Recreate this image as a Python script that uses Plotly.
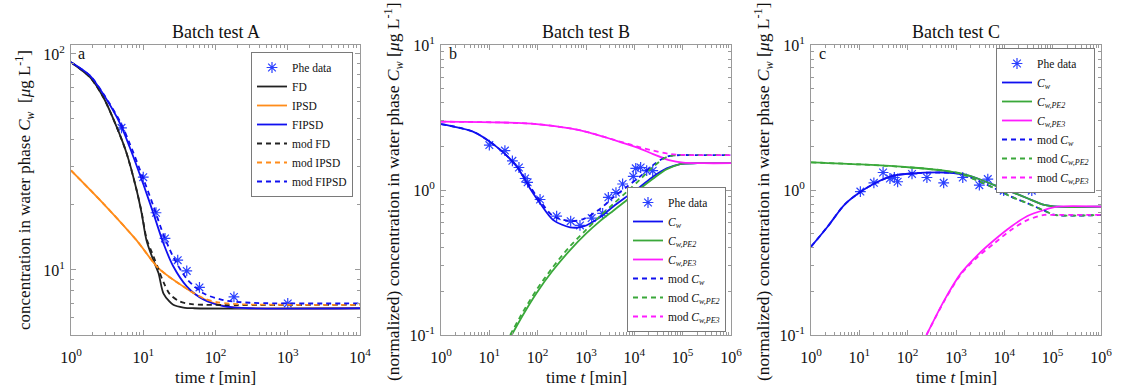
import plotly.graph_objects as go
import numpy as np

FONT = "Liberation Serif, Times New Roman, serif"
W, H = 1121, 390

# ---------------- Panel A (Batch test A) ----------------
a_data_t = [5, 10, 15, 20, 30, 40, 60, 180, 1000]
a_data_c = [45.5, 26.9, 18.4, 14.0, 11.1, 9.9, 8.3, 7.5, 7.0]

a_fd_t = [1, 1.83, 2.8, 4.3, 5.9, 8.1, 9.5, 11.1, 13.8, 16.2, 19, 23, 26, 36, 50, 10000]
a_fd_c = [91.5, 78, 63, 45.8, 34.6, 23.4, 18.3, 13.7, 11.1, 9.7, 7.8, 7.15, 6.9, 6.7, 6.65, 6.65]
a_modfd_t = [1, 1.83, 2.8, 4.3, 5.9, 8.1, 9.5, 11.1, 13.8, 16.2, 19, 23.5, 32, 44, 70, 10000]
a_modfd_c = [91.5, 78, 63, 45.8, 34.6, 23.4, 18.5, 14.0, 11.6, 10.1, 8.8, 7.7, 7.15, 6.97, 6.9, 6.9]

a_ipsd_t = [1, 2.8, 8.1, 16.2, 32, 68, 104, 160, 300, 10000]
a_ipsd_c = [28.9, 20.3, 13.7, 10.2, 8.6, 7.35, 6.95, 6.75, 6.65, 6.65]
a_modipsd_t = [1, 2.8, 8.1, 16.2, 32, 68, 104, 160, 300, 10000]
a_modipsd_c = [28.9, 20.3, 13.7, 10.2, 8.6, 7.4, 7.1, 6.98, 6.92, 6.9]

a_fipsd_t = [1, 1.83, 2.8, 4.8, 6.5, 10, 13.8, 19, 26, 40, 68, 129, 300, 10000]
a_fipsd_c = [91.5, 79.4, 65, 47.5, 37, 25, 18.3, 13.3, 10.4, 8.4, 7.3, 6.8, 6.65, 6.65]
a_modfipsd_t = [1, 1.83, 2.8, 4.8, 6.5, 10, 13.8, 19, 26, 40, 68, 129, 300, 10000]
a_modfipsd_c = [91.5, 79.4, 65.5, 48.5, 38.5, 26.5, 19.8, 14.6, 11.5, 9.1, 7.8, 7.25, 7.05, 7.0]

# ---------------- Panel B (Batch test B) ----------------
b_data_t = [10, 21, 30, 41, 55, 62, 112, 247, 482, 751, 1310, 2210, 2900, 4170, 5720,
            9500, 10700, 13500, 18000, 24000]
b_data_c = [2.04, 1.87, 1.59, 1.43, 1.20, 1.13, 0.86, 0.66, 0.61, 0.57, 0.64, 0.69, 0.89,
            0.96, 1.10, 1.24, 1.41, 1.43, 1.36, 1.36]

b_cw_t = [1, 4.7, 14, 37, 69, 112, 210, 468, 880, 1950, 3670, 6920, 13100, 24700, 46800,
          88500, 200000, 1e6]
b_cw_c = [2.85, 2.52, 1.99, 1.45, 1.03, 0.81, 0.62, 0.553, 0.56, 0.65, 0.77, 0.90, 1.05,
          1.24, 1.41, 1.51, 1.53, 1.53]
b_modcw_t = [1, 4.7, 14, 37, 69, 112, 210, 468, 880, 1950, 3670, 6920, 13100, 24700, 46800,
             88500, 200000, 1e6]
b_modcw_c = [2.85, 2.52, 1.99, 1.46, 1.06, 0.84, 0.66, 0.61, 0.63, 0.74, 0.89, 1.05, 1.24,
             1.49, 1.70, 1.74, 1.74, 1.74]

b_pe2_t = [29, 50, 95, 200, 468, 1000, 1950, 3670, 6920, 13100, 24700, 46800, 88500, 200000, 1e6]
b_pe2_c = [0.10, 0.138, 0.195, 0.275, 0.385, 0.50, 0.61, 0.72, 0.85, 1.02, 1.20, 1.39, 1.51, 1.53, 1.53]
b_modpe2_t = [27, 50, 95, 200, 468, 1000, 1950, 3670, 6920, 13100, 24700, 46800, 88500, 200000, 1e6]
b_modpe2_c = [0.10, 0.145, 0.205, 0.29, 0.41, 0.53, 0.66, 0.80, 0.97, 1.18, 1.45, 1.69, 1.74, 1.74, 1.74]

b_pe3_t = [1, 19.5, 95, 468, 1020, 2290, 5000, 11200, 24500, 55000, 102000, 270000, 1e6]
b_pe3_c = [2.96, 2.92, 2.85, 2.66, 2.52, 2.33, 2.15, 1.97, 1.77, 1.60, 1.545, 1.53, 1.53]
b_modpe3_t = [1, 19.5, 95, 468, 1020, 2290, 5000, 11200, 24500, 55000, 102000, 270000, 1e6]
b_modpe3_c = [2.96, 2.92, 2.85, 2.66, 2.52, 2.33, 2.16, 2.00, 1.87, 1.77, 1.745, 1.74, 1.74]

# ---------------- Panel C (Batch test C) ----------------
c_data_t = [10.5, 20, 31, 43, 53, 62, 123, 250, 556, 1380, 3040, 4550, 9700, 13700, 25000, 37000]
c_data_c = [0.975, 1.12, 1.32, 1.20, 1.22, 1.14, 1.29, 1.22, 1.12, 1.22, 1.08, 1.19, 0.99,
            1.07, 1.04, 0.99]

c_cw_t = [1, 2.2, 4.9, 10.8, 24, 53, 117, 575, 1260, 2800, 6200, 13700, 30000, 67000, 127000, 1e6]
c_cw_c = [0.406, 0.558, 0.79, 0.975, 1.14, 1.26, 1.30, 1.32, 1.29, 1.20, 1.08, 0.975, 0.877,
          0.79, 0.767, 0.767]
c_modcw_t = [1, 2.2, 4.9, 10.8, 24, 53, 117, 575, 1260, 2800, 6200, 13700, 30000, 67000, 110000, 1e6]
c_modcw_c = [0.406, 0.558, 0.79, 0.975, 1.14, 1.26, 1.30, 1.32, 1.29, 1.16, 1.03, 0.90, 0.81,
             0.72, 0.673, 0.673]

c_pe2_t = [1, 10.8, 117, 575, 1260, 2800, 6200, 13700, 30000, 67000, 127000, 1e6]
c_pe2_c = [1.55, 1.50, 1.43, 1.36, 1.30, 1.20, 1.08, 0.975, 0.877, 0.79, 0.767, 0.767]
c_modpe2_t = [1, 10.8, 117, 575, 1260, 2800, 6200, 13700, 30000, 67000, 110000, 1e6]
c_modpe2_c = [1.55, 1.50, 1.43, 1.36, 1.29, 1.16, 1.03, 0.90, 0.81, 0.72, 0.673, 0.673]

c_pe3_t = [245, 575, 1260, 2800, 6200, 13700, 30000, 67000, 127000, 1e6]
c_pe3_c = [0.1, 0.174, 0.266, 0.356, 0.452, 0.558, 0.662, 0.728, 0.767, 0.767]
c_modpe3_t = [245, 575, 1260, 2800, 6200, 13700, 30000, 67000, 110000, 1e6]
c_modpe3_c = [0.1, 0.172, 0.262, 0.345, 0.429, 0.53, 0.62, 0.673, 0.673, 0.673]

# tick labels
x_ticks_a = [1, 10, 100, 1000, 10000]
x_ticktext_a = ["10<sup>0</sup>", "10<sup>1</sup>", "10<sup>2</sup>", "10<sup>3</sup>", "10<sup>4</sup>"]
x_ticks_bc = [1, 10, 100, 1000, 1e4, 1e5, 1e6]
x_ticktext_bc = ["10<sup>0</sup>", "10<sup>1</sup>", "10<sup>2</sup>", "10<sup>3</sup>",
                 "10<sup>4</sup>", "10<sup>5</sup>", "10<sup>6</sup>"]
y_ticks_a = [10, 100]
y_ticktext_a = ["10<sup>1</sup>", "10<sup>2</sup>"]
y_ticks_bc = [0.1, 1, 10]
y_ticktext_bc = ["10<sup>-1</sup>", "10<sup>0</sup>", "10<sup>1</sup>"]

BLUE = "#1010f0"
BLACK = "#222222"
ORANGE = "#ff8c1a"
GREEN = "#3aa83a"
MAGENTA = "#ff1cff"
MARK = "#2a40ff"
DASH = "5px,4px"
LW = 1.8

CW = "<i>C</i><sub><i>w</i></sub>"
CW2 = "<i>C</i><sub><i>w,PE2</i></sub>"
CW3 = "<i>C</i><sub><i>w,PE3</i></sub>"

fig = go.Figure()


def line(x, y, color, dash, name, xa, ya, lg):
    fig.add_trace(go.Scatter(
        x=x, y=y, mode="lines", name=name, xaxis=xa, yaxis=ya, legend=lg,
        line=dict(color=color, width=LW, dash=dash, shape="spline", smoothing=0.8),
    ))


def pts(x, y, xa, ya, lg):
    fig.add_trace(go.Scatter(
        x=x, y=y, mode="markers", name="Phe data", xaxis=xa, yaxis=ya, legend=lg,
        marker=dict(symbol="asterisk-open", size=9, color=MARK, line=dict(color=MARK, width=1.2)),
    ))


# Panel A (order of legend)
pts(a_data_t, a_data_c, "x", "y", "legend")
line(a_fd_t, a_fd_c, BLACK, "solid", "FD", "x", "y", "legend")
line(a_ipsd_t, a_ipsd_c, ORANGE, "solid", "IPSD", "x", "y", "legend")
line(a_fipsd_t, a_fipsd_c, BLUE, "solid", "FIPSD", "x", "y", "legend")
line(a_modfd_t, a_modfd_c, BLACK, DASH, "mod FD", "x", "y", "legend")
line(a_modipsd_t, a_modipsd_c, ORANGE, DASH, "mod IPSD", "x", "y", "legend")
line(a_modfipsd_t, a_modfipsd_c, BLUE, DASH, "mod FIPSD", "x", "y", "legend")

# Panel B
pts(b_data_t, b_data_c, "x2", "y2", "legend2")
line(b_cw_t, b_cw_c, BLUE, "solid", CW, "x2", "y2", "legend2")
line(b_pe2_t, b_pe2_c, GREEN, "solid", CW2, "x2", "y2", "legend2")
line(b_pe3_t, b_pe3_c, MAGENTA, "solid", CW3, "x2", "y2", "legend2")
line(b_modcw_t, b_modcw_c, BLUE, DASH, "mod " + CW, "x2", "y2", "legend2")
line(b_modpe2_t, b_modpe2_c, GREEN, DASH, "mod " + CW2, "x2", "y2", "legend2")
line(b_modpe3_t, b_modpe3_c, MAGENTA, DASH, "mod " + CW3, "x2", "y2", "legend2")

# Panel C
pts(c_data_t, c_data_c, "x3", "y3", "legend3")
line(c_cw_t, c_cw_c, BLUE, "solid", CW, "x3", "y3", "legend3")
line(c_pe2_t, c_pe2_c, GREEN, "solid", CW2, "x3", "y3", "legend3")
line(c_pe3_t, c_pe3_c, MAGENTA, "solid", CW3, "x3", "y3", "legend3")
line(c_modcw_t, c_modcw_c, BLUE, DASH, "mod " + CW, "x3", "y3", "legend3")
line(c_modpe2_t, c_modpe2_c, GREEN, DASH, "mod " + CW2, "x3", "y3", "legend3")
line(c_modpe3_t, c_modpe3_c, MAGENTA, DASH, "mod " + CW3, "x3", "y3", "legend3")

AXC = "#9a9a9a"


def minor_vals(lo, hi):
    v = []
    for e in range(lo, hi):
        for m in range(2, 10):
            v.append(m * 10.0 ** e)
    return v


def axis(domain, rng, tv, tt, anchor, minors, standoff):
    return dict(
        type="log", domain=domain, range=rng, anchor=anchor,
        tickmode="array", tickvals=tv, ticktext=tt,
        ticks="inside", ticklen=5, tickwidth=1, tickcolor=AXC,
        showline=True, linecolor=AXC, linewidth=1, mirror="allticks",
        showgrid=False, zeroline=False, automargin=False,
        ticklabelstandoff=standoff,
        tickfont=dict(family=FONT, size=16, color="#111"),
        minor=dict(tickmode="array", tickvals=minors, ticks="inside", ticklen=3,
                   tickcolor=AXC, showgrid=False),
    )


YD = [1 - 335 / H, 1 - 45 / H]
XA = [71 / W, 360 / W]
XB = [441 / W, 731 / W]
XC = [811 / W, 1101 / W]

leg_common = dict(
    bgcolor="white", bordercolor="#7a7a7a", borderwidth=1,
    font=dict(family=FONT, size=11.5, color="#111"),
    tracegroupgap=0, itemwidth=30,
)

fig.update_layout(
    width=W, height=H, margin=dict(l=0, r=0, t=0, b=0, pad=0, autoexpand=False),
    paper_bgcolor="white", plot_bgcolor="white",
    font=dict(family=FONT, color="#111"),
    xaxis=axis(XA, [0, 4], x_ticks_a, x_ticktext_a, "y", minor_vals(0, 4), 8),
    yaxis=axis(YD, [np.log10(5), np.log10(110)], y_ticks_a, y_ticktext_a, "x", minor_vals(0, 3), 2),
    xaxis2=axis(XB, [0, 6], x_ticks_bc, x_ticktext_bc, "y2", minor_vals(0, 6), 8),
    yaxis2=axis(YD, [-1, 1], y_ticks_bc, y_ticktext_bc, "x2", minor_vals(-1, 1), 2),
    xaxis3=axis(XC, [0, 6], x_ticks_bc, x_ticktext_bc, "y3", minor_vals(0, 6), 8),
    yaxis3=axis(YD, [-1, 1], y_ticks_bc, y_ticktext_bc, "x3", minor_vals(-1, 1), 2),
    legend=dict(x=353 / W, y=1 - 52 / H, xanchor="right", yanchor="top", **leg_common),
    legend2=dict(x=726 / W, y=1 - 332 / H, xanchor="right", yanchor="bottom", **leg_common),
    legend3=dict(x=1095 / W, y=1 - 48 / H, xanchor="right", yanchor="top", **leg_common),
    showlegend=True,
)


def note(text, x, y, size, **kw):
    d = dict(text=text, x=x / W, y=1 - y / H, xref="paper", yref="paper",
             xanchor="center", yanchor="middle", showarrow=False,
             font=dict(family=FONT, size=size, color="#111"))
    d.update(kw)
    return d


ann = []
for x0, x1, title, letter, lx in [(71, 360, "Batch test A", "a", 76),
                                  (441, 731, "Batch test B", "b", 447),
                                  (811, 1101, "Batch test C", "c", 817)]:
    xc = (x0 + x1) / 2
    ann.append(note(title, xc, 32, 18))
    ann.append(note("time <i>t</i> [min]", xc, 377, 17))
    ann.append(note(letter, lx, 54, 16, xanchor="left"))

ytitle_a = "concentration in water phase <i>C</i><sub><i>w</i></sub>  [<i>μ</i>g L<sup>-1</sup>]"
ytitle_bc = "(normalized) concentration in water phase <i>C</i><sub><i>w</i></sub> [<i>μ</i>g L<sup>-1</sup>]"
ann.append(note(ytitle_a, 24, 190, 17, textangle=-90))
for xx in [393, 763]:
    ann.append(note(ytitle_bc, xx, 192, 17.5, textangle=-90))

fig.update_layout(annotations=ann)
fig.write_html("out.html")
